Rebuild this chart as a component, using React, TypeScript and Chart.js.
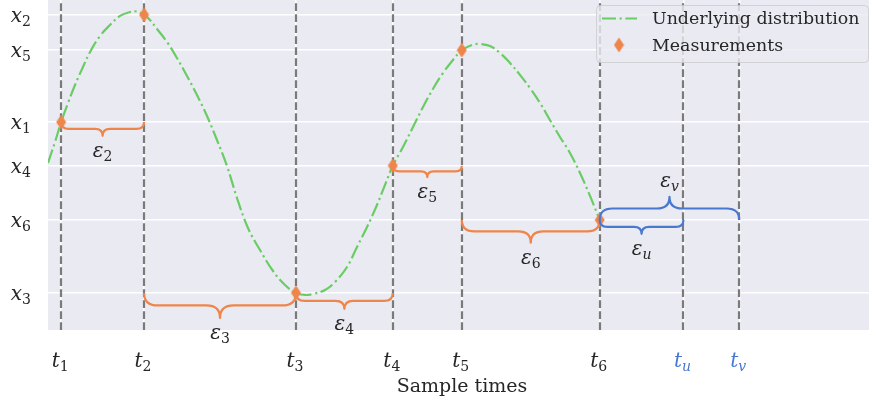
import React, { useEffect, useRef } from 'react';
import { Chart, registerables } from 'chart.js';

Chart.register(...registerables);

// ---- data ----
const sampleTimes = [0.16, 1.17, 3.02, 4.2, 5.04, 6.72];
const sampleTimeSubs = ['1', '2', '3', '4', '5', '6'];
const futureTimes = [7.74, 8.42];
const futureTimeSubs = ['u', 'v'];
const measurementValues = [0.212, 0.993, -1.03, -0.105, 0.735, -0.5];
const measurementSubs = ['1', '2', '3', '4', '5', '6'];

const curveX = [0, 0.085, 0.16, 0.244, 0.329, 0.426, 0.512, 0.633, 0.755, 0.877, 0.999, 1.084, 1.17, 1.242, 1.328, 1.449, 1.571, 1.693, 1.815, 1.937, 2.058, 2.18, 2.302, 2.436, 2.582, 2.741, 2.887, 3.02, 3.13, 3.228, 3.374, 3.496, 3.642, 3.764, 3.886, 4.007, 4.105, 4.2, 4.324, 4.446, 4.568, 4.689, 4.811, 4.933, 5.04, 5.164, 5.262, 5.384, 5.505, 5.627, 5.749, 5.871, 5.993, 6.114, 6.236, 6.358, 6.48, 6.602, 6.72];
const curveY = [-0.085, 0.067, 0.212, 0.351, 0.482, 0.613, 0.722, 0.838, 0.918, 0.984, 1.013, 1.016, 0.993, 0.955, 0.889, 0.795, 0.678, 0.547, 0.409, 0.256, 0.082, -0.107, -0.34, -0.558, -0.718, -0.871, -0.973, -1.03, -1.045, -1.038, -1.009, -0.951, -0.842, -0.696, -0.551, -0.391, -0.245, -0.105, 0.031, 0.176, 0.322, 0.453, 0.569, 0.664, 0.735, 0.773, 0.78, 0.765, 0.715, 0.642, 0.555, 0.46, 0.351, 0.227, 0.104, -0.013, -0.158, -0.325, -0.5];

// braces: indices into allTimes (from/to), level index into measurementValues
const braceFromIndex = [0, 1, 2, 3, 4, 5, 5];
const braceToIndex = [1, 2, 3, 4, 5, 6, 7];
const braceLevelIndex = [0, 2, 2, 3, 5, 5, 5];
const braceSubs = ['2', '3', '4', '5', '6', 'u', 'v'];
const braceAbove = [false, false, false, false, false, false, true];

const allTimes = [...sampleTimes, ...futureTimes];
const allTimeSubs = [...sampleTimeSubs, ...futureTimeSubs];

const GREEN = '#6ACC64';
const ORANGE = '#EE854A';
const BLUE = '#4878D0';
const TEXT = '#262626';
const BG = '#EAEAF2';
const CURVE_DASH = [14, 3.6, 2.2, 3.6];
const SERIF = '"DejaVu Serif", serif';

function makeDiamond(): HTMLCanvasElement {
  const c = document.createElement('canvas');
  c.width = 11;
  c.height = 16;
  const g = c.getContext('2d')!;
  g.fillStyle = ORANGE;
  g.beginPath();
  g.moveTo(5.5, 0.5);
  g.lineTo(10.5, 8);
  g.lineTo(5.5, 15.5);
  g.lineTo(0.5, 8);
  g.closePath();
  g.fill();
  return c;
}

function drawMath(ctx: CanvasRenderingContext2D, base: string, sub: string, x: number, baseline: number, align: string, color: string, size: number) {
  const mainFont = `italic ${size}px ${SERIF}`;
  const subSize = size * 0.7;
  const isDigit = /\d/.test(sub);
  const subFont = `${isDigit ? '' : 'italic '}${subSize}px ${SERIF}`;
  ctx.font = mainFont;
  const w1 = ctx.measureText(base).width;
  ctx.font = subFont;
  const w2 = ctx.measureText(sub).width;
  const total = w1 + w2;
  const x0 = align === 'center' ? x - total / 2 : align === 'right' ? x - total : x;
  ctx.save();
  ctx.fillStyle = color;
  ctx.textAlign = 'left';
  ctx.textBaseline = 'alphabetic';
  ctx.font = mainFont;
  ctx.fillText(base, x0, baseline);
  ctx.font = subFont;
  ctx.fillText(sub, x0 + w1, baseline + size * 0.2);
  ctx.restore();
}

function drawBrace(ctx: CanvasRenderingContext2D, x0: number, x1: number, y: number, dir: number, color: string) {
  const w = x1 - x0;
  const tip = w * 0.165;
  const h = tip / 2;
  const r = Math.min(h * 1.1, w / 4);
  const xm = (x0 + x1) / 2;
  ctx.save();
  ctx.strokeStyle = color;
  ctx.lineWidth = 2.2;
  ctx.lineJoin = 'round';
  ctx.setLineDash([]);
  ctx.beginPath();
  ctx.moveTo(x0, y);
  ctx.quadraticCurveTo(x0, y + dir * h, x0 + r, y + dir * h);
  ctx.lineTo(xm - r, y + dir * h);
  ctx.quadraticCurveTo(xm, y + dir * h, xm, y + dir * tip);
  ctx.quadraticCurveTo(xm, y + dir * h, xm + r, y + dir * h);
  ctx.lineTo(x1 - r, y + dir * h);
  ctx.quadraticCurveTo(x1, y + dir * h, x1, y);
  ctx.stroke();
  ctx.restore();
  return y + dir * tip;
}

export default function App() {
  const ref = useRef<HTMLCanvasElement | null>(null);
  useEffect(() => {
    const canvas = ref.current!;
    const diamond = makeDiamond();

    const deco = {
      id: 'deco',
      beforeDraw(chart: any) {
        const { ctx, chartArea: a } = chart;
        ctx.save();
        ctx.fillStyle = BG;
        ctx.fillRect(a.left, a.top, a.right - a.left, a.bottom - a.top);
        ctx.restore();
      },
      beforeDatasetsDraw(chart: any) {
        const { ctx, chartArea: a, scales } = chart;
        ctx.save();
        ctx.strokeStyle = '#7a7a7a';
        ctx.lineWidth = 2.2;
        ctx.setLineDash([7.7, 3.3]);
        for (const t of allTimes) {
          const px = Math.round(scales.x.getPixelForValue(t));
          ctx.beginPath();
          ctx.moveTo(px, a.bottom);
          ctx.lineTo(px, a.top);
          ctx.stroke();
        }
        ctx.restore();
      },
      afterDatasetsDraw(chart: any) {
        const { ctx, scales } = chart;
        // braces
        for (let i = 0; i < braceSubs.length; i++) {
          const x0 = scales.x.getPixelForValue(allTimes[braceFromIndex[i]]);
          const x1 = scales.x.getPixelForValue(allTimes[braceToIndex[i]]);
          const y = scales.y.getPixelForValue(measurementValues[braceLevelIndex[i]]);
          const future = /[a-z]/.test(braceSubs[i]);
          const color = future ? BLUE : ORANGE;
          const dir = braceAbove[i] ? -1 : 1;
          const tipY = drawBrace(ctx, x0, x1, y, dir, color);
          const bl = dir > 0 ? tipY + 21 : tipY - 10;
          drawMath(ctx, '\u03B5', braceSubs[i], (x0 + x1) / 2, bl, 'center', TEXT, 20);
        }
        // legend
        ctx.save();
        const lx = 596.5, ly = 5.5, lw = 272, lh = 57;
        ctx.beginPath();
        ctx.roundRect(lx, ly, lw, lh, 4);
        ctx.fillStyle = 'rgba(234,234,242,0.8)';
        ctx.fill();
        ctx.strokeStyle = 'rgba(204,204,204,0.8)';
        ctx.lineWidth = 1;
        ctx.stroke();
        ctx.strokeStyle = GREEN;
        ctx.lineWidth = 2.2;
        ctx.setLineDash(CURVE_DASH);
        ctx.beginPath();
        ctx.moveTo(602, 18.5);
        ctx.lineTo(637, 18.5);
        ctx.stroke();
        ctx.setLineDash([]);
        ctx.drawImage(diamond, 619 - 5.5, 45 - 8);
        ctx.fillStyle = TEXT;
        ctx.font = `17.4px ${SERIF}`;
        ctx.textAlign = 'left';
        ctx.textBaseline = 'middle';
        ctx.fillText('Underlying distribution', 652, 19);
        ctx.fillText('Measurements', 652, 46);
        ctx.restore();
      },
      afterDraw(chart: any) {
        const { ctx, scales } = chart;
        // y tick labels
        for (let i = 0; i < measurementValues.length; i++) {
          const py = scales.y.getPixelForValue(measurementValues[i]);
          drawMath(ctx, 'x', measurementSubs[i], 31, py + 7, 'right', TEXT, 20);
        }
        // x tick labels
        for (let i = 0; i < allTimes.length; i++) {
          const px = scales.x.getPixelForValue(allTimes[i]);
          const future = /[a-z]/.test(allTimeSubs[i]);
          drawMath(ctx, 't', allTimeSubs[i], px - 1, 367, 'center', future ? BLUE : TEXT, 20);
        }
        // axis title
        ctx.save();
        ctx.fillStyle = TEXT;
        ctx.font = `19px ${SERIF}`;
        ctx.textAlign = 'center';
        ctx.textBaseline = 'alphabetic';
        ctx.fillText('Sample times', 462, 392);
        ctx.restore();
      },
    };

    const chart = new Chart(canvas, {
      type: 'scatter',
      data: {
        datasets: [
          {
            label: 'Measurements',
            data: sampleTimes.map((t, i) => ({ x: t, y: measurementValues[i] })),
            showLine: false,
            pointStyle: diamond,
            pointRadius: 8,
            order: 0,
          },
          {
            label: 'Underlying distribution',
            data: curveX.map((x, i) => ({ x, y: curveY[i] })),
            showLine: true,
            borderColor: GREEN,
            borderWidth: 2.2,
            borderDash: CURVE_DASH,
            pointRadius: 0,
            tension: 0.4,
            order: 1,
          },
        ],
      } as any,
      options: {
        responsive: false,
        animation: false,
        devicePixelRatio: 1,
        layout: { autoPadding: false, padding: { left: 48, right: 0, top: 0, bottom: 72 } },
        plugins: { legend: { display: false }, tooltip: { enabled: false } },
        scales: {
          x: {
            type: 'linear',
            min: 0,
            max: 10,
            afterBuildTicks: (s: any) => {
              s.ticks = allTimes.map((v) => ({ value: v }));
            },
            ticks: { display: false },
            grid: { color: '#ffffff', lineWidth: 1.5, drawTicks: false },
            border: { display: false },
          },
          y: {
            type: 'linear',
            min: -1.3,
            max: 1.1,
            afterBuildTicks: (s: any) => {
              s.ticks = measurementValues.map((v) => ({ value: v }));
            },
            ticks: { display: false },
            grid: { color: '#ffffff', lineWidth: 1.5, drawTicks: false },
            border: { display: false },
          },
        },
      } as any,
      plugins: [deco],
    });
    return () => chart.destroy();
  }, []);

  return (
    <div style={{ position: 'fixed', left: 0, top: 0, width: 869, height: 402, background: '#ffffff' }}>
      <canvas ref={ref} width={869} height={402} style={{ display: 'block' }} />
    </div>
  );
}
